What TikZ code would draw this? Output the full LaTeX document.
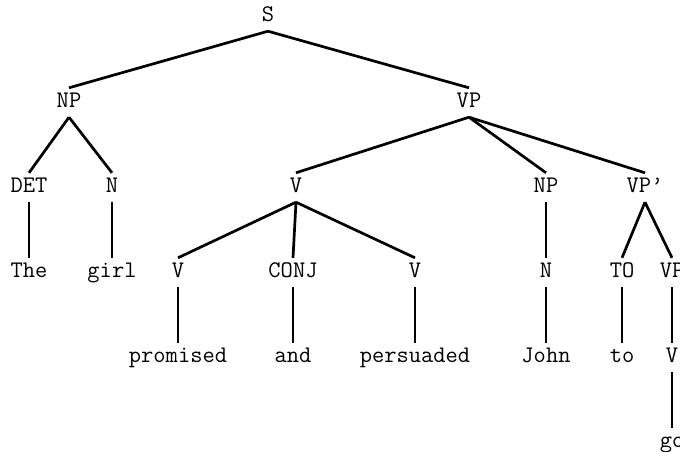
\documentclass[tikz,border=0pt]{standalone}
\usepackage{fontspec}
\begin{document}
\begin{tikzpicture}[x=1pt,y=-1pt,
  lbl/.style={inner sep=0pt, text height=19pt, text depth=10pt, anchor=base,
    font=\fontsize{23.8}{28}\ttfamily},
  edge/.style={line width=2.7pt}]
\useasboundingbox (0,0) rectangle (680,451);
\clip (0,0) rectangle (680,451);
% row 1
\node[lbl] (s) at (268,21) {S};
% row 2
\node[lbl] (np) at (69,107) {NP};
\node[lbl] (vp) at (469,107) {VP};
% row 3
\node[lbl] (det) at (29,192) {DET};
\node[lbl] (n) at (112,192) {N};
\node[lbl] (v) at (296,192) {V};
\node[lbl] (np2) at (546,192) {NP};
\node[lbl] (vpp) at (645,192) {VP’};
% row 4
\node[lbl] (the) at (29,277) {The};
\node[lbl] (girl) at (112,277) {girl};
\node[lbl] (v1) at (178,277) {V};
\node[lbl] (conj) at (293,277) {CONJ};
\node[lbl] (v2) at (415,277) {V};
\node[lbl] (n2) at (546,277) {N};
\node[lbl] (to) at (622,277) {TO};
\node[lbl] (vp2) at (672,277) {VP};
% row 5
\node[lbl] (promised) at (178,362) {promised};
\node[lbl] (and) at (293,362) {and};
\node[lbl] (persuaded) at (415,362) {persuaded};
\node[lbl] (john) at (546,362) {John};
\node[lbl] (to2) at (622,362) {to};
\node[lbl] (v3) at (672,362) {V};
% row 6
\node[lbl] (go) at (672,447) {go};
% edges
\draw[edge] (s.south) -- (np.north);
\draw[edge] (s.south) -- (vp.north);
\draw[edge] (np.south) -- (det.north);
\draw[edge] (np.south) -- (n.north);
\draw[edge] (vp.south) -- (v.north);
\draw[edge] (vp.south) -- (np2.north);
\draw[edge] (vp.south) -- (vpp.north);
\draw[edge] (det.south) -- (the.north);
\draw[edge] (n.south) -- (girl.north);
\draw[edge] (v.south) -- (v1.north);
\draw[edge] (v.south) -- (conj.north);
\draw[edge] (v.south) -- (v2.north);
\draw[edge] (np2.south) -- (n2.north);
\draw[edge] (vpp.south) -- (to.north);
\draw[edge] (vpp.south) -- (vp2.north);
\draw[edge] (v1.south) -- (promised.north);
\draw[edge] (conj.south) -- (and.north);
\draw[edge] (v2.south) -- (persuaded.north);
\draw[edge] (n2.south) -- (john.north);
\draw[edge] (to.south) -- (to2.north);
\draw[edge] (vp2.south) -- (v3.north);
\draw[edge] (v3.south) -- (go.north);
\end{tikzpicture}
\end{document}
